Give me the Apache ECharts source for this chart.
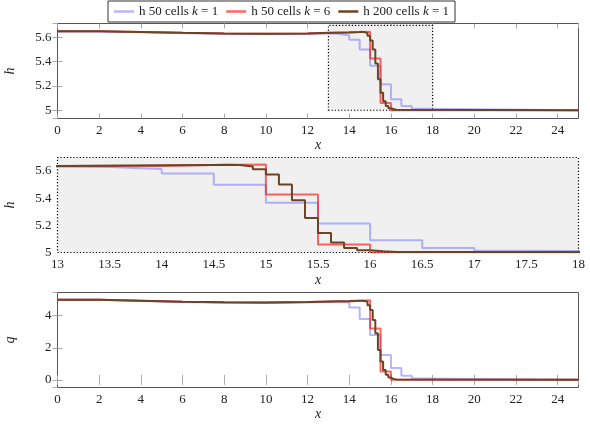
<!DOCTYPE html>
<html>
<head>
<meta charset="utf-8">
<script src="https://cdn.jsdelivr.net/npm/echarts@6/dist/echarts.min.js"></script>
<style>
  html, body { margin: 0; padding: 0; background: #fff; }
  #chart { width: 590px; height: 424px; }
</style>
</head>
<body>
<div id="chart"></div>
<script>
// h, q profiles (left cell edges, const plot)
const seriesNames = ['h 50 cells k = 1', 'h 50 cells k = 6', 'h 200 cells k = 1'];

// 50 cells, k = 1
const xBlue = [0, 2, 4, 6, 8, 10, 12, 13, 13.5, 14, 14.5, 15, 15.5, 16, 16.5, 17, 17.5, 25];
const hBlue = [5.650, 5.642, 5.635, 5.630, 5.628, 5.630, 5.635, 5.630, 5.616, 5.582, 5.500, 5.366, 5.214, 5.090, 5.034, 5.012, 5.001, 5.0];
const qBlue = [4.99, 4.92, 4.85, 4.81, 4.80, 4.82, 4.87, 4.90, 4.83, 4.51, 3.79, 2.80, 1.55, 0.73, 0.25, 0.08, 0.0, 0.0];

// 50 cells, k = 6
const xRed = [0, 2, 4, 6, 8, 10, 12, 14, 14.5, 15, 15.5, 16, 25];
const hRed = [5.652, 5.645, 5.638, 5.633, 5.630, 5.632, 5.638, 5.645, 5.648, 5.427, 5.059, 5.0, 5.0];
const qRed = [4.99, 4.93, 4.87, 4.84, 4.83, 4.85, 4.89, 4.94, 4.97, 3.21, 0.52, 0.0, 0.0];

// 200 cells, k = 1
const xBrown = [0, 2, 4, 6, 8, 10, 12, 13, 14, 14.5, 14.625, 14.75, 14.875, 15, 15.125, 15.25, 15.375, 15.5, 15.625, 15.75, 15.875, 16, 16.125, 16.25, 25];
const hBrown = [5.652, 5.645, 5.638, 5.633, 5.630, 5.632, 5.638, 5.642, 5.645, 5.646, 5.644, 5.633, 5.614, 5.575, 5.501, 5.385, 5.255, 5.144, 5.074, 5.034, 5.017, 5.010, 5.004, 5.0, 5.0];
const qBrown = [4.99, 4.93, 4.87, 4.84, 4.83, 4.85, 4.89, 4.92, 4.94, 4.94, 4.92, 4.87, 4.66, 4.35, 3.73, 2.90, 1.86, 1.14, 0.62, 0.31, 0.14, 0.06, 0.02, 0.0, 0.0];

// zoom window
const zoomX = [13, 18];
const zoomH = [5, 5.7];

const colors = ['rgba(110,110,255,0.5)', 'rgba(255,0,0,0.6)', '#6b4423'];
const FONT = 'Liberation Serif';

const chart = echarts.init(document.getElementById('chart'));

function pairs(xs, ys) {
  return xs.map((x, i) => [x, ys[i]]);
}

const gridTops = [23.5, 157.5, 292.5];
const grids = gridTops.map((t, i) => ({
  left: 57.5, top: t, width: 521, height: 95,
  containLabel: false, outerBoundsMode: 'none',
  show: i !== 1, borderColor: '#555', borderWidth: 1, backgroundColor: 'transparent'
}));

const labelStyle = { color: '#222', fontFamily: FONT, fontSize: 13 };
const tickStyle = { show: true, inside: true, length: 5, lineStyle: { color: '#aaa' } };

function xMain(grid, min, max, interval, ticks, gap) {
  return {
    type: 'value', gridIndex: grid, min: min, max: max, interval: interval,
    axisLine: { show: false },
    axisTick: ticks ? tickStyle : { show: false },
    splitLine: { show: false },
    axisLabel: Object.assign({ margin: 6, showMaxLabel: max % interval === 0 }, labelStyle),
    name: 'x', nameLocation: 'middle', nameGap: gap,
    nameTextStyle: { fontFamily: FONT, fontStyle: 'italic', fontSize: 14, color: '#222' }
  };
}
function xTop(grid, min, max, interval) {
  return {
    type: 'value', gridIndex: grid, position: 'top', min: min, max: max, interval: interval,
    axisLine: { show: false }, axisTick: tickStyle, axisLabel: { show: false }, splitLine: { show: false }
  };
}
function yMain(grid, min, max, split, name, ticks, showMin) {
  return {
    type: 'value', gridIndex: grid, min: min, max: max, splitNumber: split,
    axisLine: { show: false },
    axisTick: ticks ? tickStyle : { show: false },
    splitLine: { show: false },
    axisLabel: Object.assign({ margin: 6, showMinLabel: showMin, showMaxLabel: false }, labelStyle),
    name: name, nameLocation: 'middle', nameGap: 40, nameRotate: 90,
    nameTextStyle: { fontFamily: FONT, fontStyle: 'italic', fontSize: 14, color: '#222' }
  };
}
function yRight(grid, min, max, split) {
  return {
    type: 'value', gridIndex: grid, position: 'right', min: min, max: max, splitNumber: split,
    axisLine: { show: false }, axisTick: tickStyle, axisLabel: { show: false }, splitLine: { show: false }
  };
}

const xAxes = [
  xMain(0, 0, 25, 2, true, 18), xTop(0, 0, 25, 2),
  xMain(1, 13, 18, 0.5, false, 21),
  xMain(2, 0, 25, 2, true, 18), xTop(2, 0, 25, 2)
];
const yAxes = [
  yMain(0, 4.932, 5.715, 4, 'h', true, false), yRight(0, 4.932, 5.715, 4),
  yMain(1, zoomH[0], zoomH[1], 4, 'h', false, true),
  yMain(2, -0.48, 5.45, 3, 'q', true, false), yRight(2, -0.48, 5.45, 3)
];

const zoomBox = {
  silent: true,
  itemStyle: { color: '#f0f0f0', borderColor: '#000', borderWidth: 1.2, borderType: [1.2, 2] },
  data: [[{ coord: [zoomX[0], zoomH[0]] }, { coord: [zoomX[1], zoomH[1]] }]]
};

const profiles = [
  { xi: 0, yi: 0, data: [pairs(xBlue, hBlue), pairs(xRed, hRed), pairs(xBrown, hBrown)], box: true },
  { xi: 2, yi: 2, data: [pairs(xBlue, hBlue), pairs(xRed, hRed), pairs(xBrown, hBrown)], box: true },
  { xi: 3, yi: 3, data: [pairs(xBlue, qBlue), pairs(xRed, qRed), pairs(xBrown, qBrown)], box: false }
];

const series = [];
profiles.forEach(p => {
  p.data.forEach((d, k) => {
    const s = {
      name: seriesNames[k], type: 'line', step: 'end', symbol: 'none',
      xAxisIndex: p.xi, yAxisIndex: p.yi, data: d, z: 3 + k,
      lineStyle: { color: colors[k], width: 2 }, itemStyle: { color: colors[k] },
      animation: false
    };
    if (k === 0 && p.box) s.markArea = zoomBox;
    series.push(s);
  });
});

chart.setOption({
  animation: false,
  legend: {
    data: seriesNames, top: 1, left: 108,
    icon: 'rect', itemWidth: 20, itemHeight: 2.5,
    padding: [4, 6], itemGap: 8,
    borderColor: '#333', borderWidth: 1, borderRadius: 0,
    textStyle: {
      fontFamily: FONT, fontSize: 13, color: '#222',
      rich: { i: { fontFamily: FONT, fontStyle: 'italic', fontSize: 13, color: '#222' } }
    },
    formatter: n => n.replace('k = ', '{i|k} = ')
  },
  grid: grids,
  xAxis: xAxes,
  yAxis: yAxes,
  series: series
});
</script>
</body>
</html>
